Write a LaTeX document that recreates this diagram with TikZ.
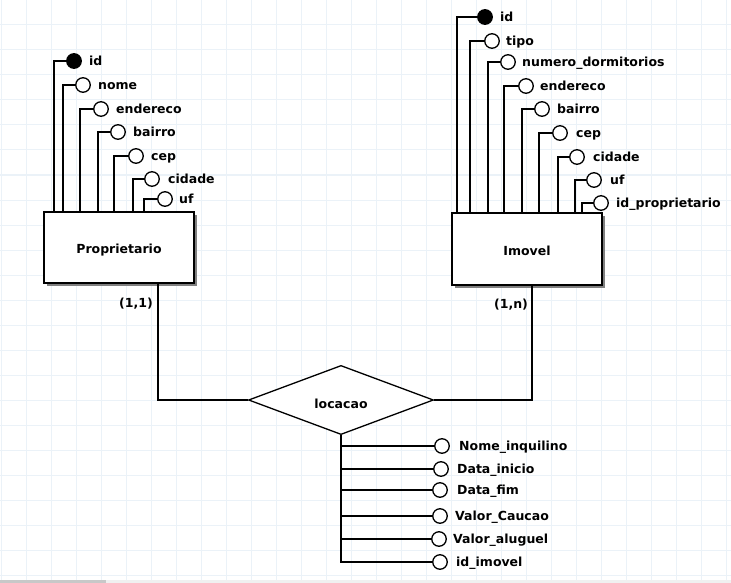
\documentclass[tikz,border=0pt]{standalone}
\usepackage{fontspec}
\setmainfont{DejaVu Sans}
\usetikzlibrary{shapes.geometric,shadows}
\definecolor{gridc}{RGB}{235,242,248}
\definecolor{sbdark}{RGB}{200,200,200}
\definecolor{sblight}{RGB}{240,240,240}
\begin{document}
\begin{tikzpicture}[x=1pt,y=-1pt,
 ln/.style={line width=1.3pt,black},
 attr/.style={circle,draw,line width=1.3pt,fill=white,minimum size=14.5pt,inner sep=0pt},
 keyattr/.style={attr,fill=black},
 lbl/.style={anchor=base west,inner sep=0pt,font=\fontsize{12.5pt}{15pt}\selectfont\bfseries},
 card/.style={anchor=center,inner sep=0pt,font=\fontsize{12.5pt}{15pt}\selectfont\bfseries},
 ent/.style={draw,line width=1.3pt,fill=white,minimum width=150pt,minimum height=71pt,inner sep=0pt,
   text height=12.5pt,text depth=0pt,font=\fontsize{12.5pt}{15pt}\selectfont\bfseries,
   drop shadow={shadow xshift=2.5pt,shadow yshift=-2.5pt,fill=black!50,opacity=1}},
 rel/.style={diamond,draw,line width=1.3pt,fill=white,minimum width=185pt,minimum height=62pt,inner sep=0pt,
   text height=16pt,text depth=0pt,font=\fontsize{12.5pt}{15pt}\selectfont\bfseries}]
\useasboundingbox (0,0) rectangle (731,583);
\fill[white] (0,0) rectangle (731,583);
% grid
\foreach \gx in {1,26,...,726} \draw[gridc,line width=1pt] (\gx,0) -- (\gx,579.5);
\foreach \gy in {25,50,...,575} \draw[gridc,line width=1pt] (0,\gy) -- (731,\gy);
% scrollbar
\fill[sblight] (0,579.5) rectangle (731,583);
\fill[sbdark] (0,579.5) rectangle (106,583);

% entities and relationship
\node[ent] (prop) at (119,247.5) {Proprietario};
\node[ent,minimum height=72pt] (imov) at (527,249) {Imovel};
\node[rel] (rel) at (341,400) {locacao};

% Proprietario attributes
\node[keyattr] (p1) at (74,61) {};  \node[lbl] (p1t) at (89,65.5) {id};
\node[attr] (p2) at (83,85) {};     \node[lbl] (p2t) at (98,89.5) {nome};
\node[attr] (p3) at (101,109) {};   \node[lbl] (p3t) at (116,113.5) {endereco};
\node[attr] (p4) at (118,132) {};   \node[lbl] (p4t) at (133,136.5) {bairro};
\node[attr] (p5) at (136,156) {};   \node[lbl] (p5t) at (151,160.5) {cep};
\node[attr] (p6) at (152,179) {};   \node[lbl] (p6t) at (168,183.5) {cidade};
\node[attr] (p7) at (165,199) {};   \node[lbl] (p7t) at (179,203.5) {uf};
\draw[ln] (prop.north -| 54,0) |- (p1.west);
\draw[ln] (prop.north -| 63,0) |- (p2.west);
\draw[ln] (prop.north -| 80,0) |- (p3.west);
\draw[ln] (prop.north -| 98,0) |- (p4.west);
\draw[ln] (prop.north -| 114,0) |- (p5.west);
\draw[ln] (prop.north -| 133,0) |- (p6.west);
\draw[ln] (prop.north -| 144,0) |- (p7.west);

% Imovel attributes
\node[keyattr] (i1) at (485,17) {}; \node[lbl] (i1t) at (500,21.5) {id};
\node[attr] (i2) at (492,41) {};    \node[lbl] (i2t) at (506,45.5) {tipo};
\node[attr] (i3) at (508,62) {};    \node[lbl] (i3t) at (522,66.5) {numero\_dormitorios};
\node[attr] (i4) at (526,86) {};    \node[lbl] (i4t) at (540,90.5) {endereco};
\node[attr] (i5) at (542,109) {};   \node[lbl] (i5t) at (557,113.5) {bairro};
\node[attr] (i6) at (560,133) {};   \node[lbl] (i6t) at (576,137.5) {cep};
\node[attr] (i7) at (577,157) {};   \node[lbl] (i7t) at (593,161.5) {cidade};
\node[attr] (i8) at (594,180) {};   \node[lbl] (i8t) at (610,184.5) {uf};
\node[attr] (i9) at (601,203) {};   \node[lbl] (i9t) at (616,207.5) {id\_proprietario};
\draw[ln] (imov.north -| 457,0) |- (i1.west);
\draw[ln] (imov.north -| 470,0) |- (i2.west);
\draw[ln] (imov.north -| 488,0) |- (i3.west);
\draw[ln] (imov.north -| 504,0) |- (i4.west);
\draw[ln] (imov.north -| 522,0) |- (i5.west);
\draw[ln] (imov.north -| 539,0) |- (i6.west);
\draw[ln] (imov.north -| 558,0) |- (i7.west);
\draw[ln] (imov.north -| 575,0) |- (i8.west);
\draw[ln] (imov.north -| 582,0) |- (i9.west);

% relationship connectors
\draw[ln] (prop.south -| 158,0) |- (rel.west);
\draw[ln] (imov.south -| 532,0) |- (rel.east);
\node[card] (c1) at (136,304) {(1,1)};
\node[card] (c2) at (511,305) {(1,n)};

% relationship attributes
\node[attr] (r1) at (442,446) {}; \node[lbl] (r1t) at (459,450.5) {Nome\_inquilino};
\node[attr] (r2) at (441,469) {}; \node[lbl] (r2t) at (457,473.5) {Data\_inicio};
\node[attr] (r3) at (440,490) {}; \node[lbl] (r3t) at (457,494.5) {Data\_fim};
\node[attr] (r4) at (440,516) {}; \node[lbl] (r4t) at (455,520.5) {Valor\_Caucao};
\node[attr] (r5) at (439,539) {}; \node[lbl] (r5t) at (453,543.5) {Valor\_aluguel};
\node[attr] (r6) at (440,562) {}; \node[lbl] (r6t) at (456,566.5) {id\_imovel};
\draw[ln] (rel.south) |- (r6.west);
\draw[ln] (rel.south |- r1.west) -- (r1.west);
\draw[ln] (rel.south |- r2.west) -- (r2.west);
\draw[ln] (rel.south |- r3.west) -- (r3.west);
\draw[ln] (rel.south |- r4.west) -- (r4.west);
\draw[ln] (rel.south |- r5.west) -- (r5.west);
\end{tikzpicture}
\end{document}
